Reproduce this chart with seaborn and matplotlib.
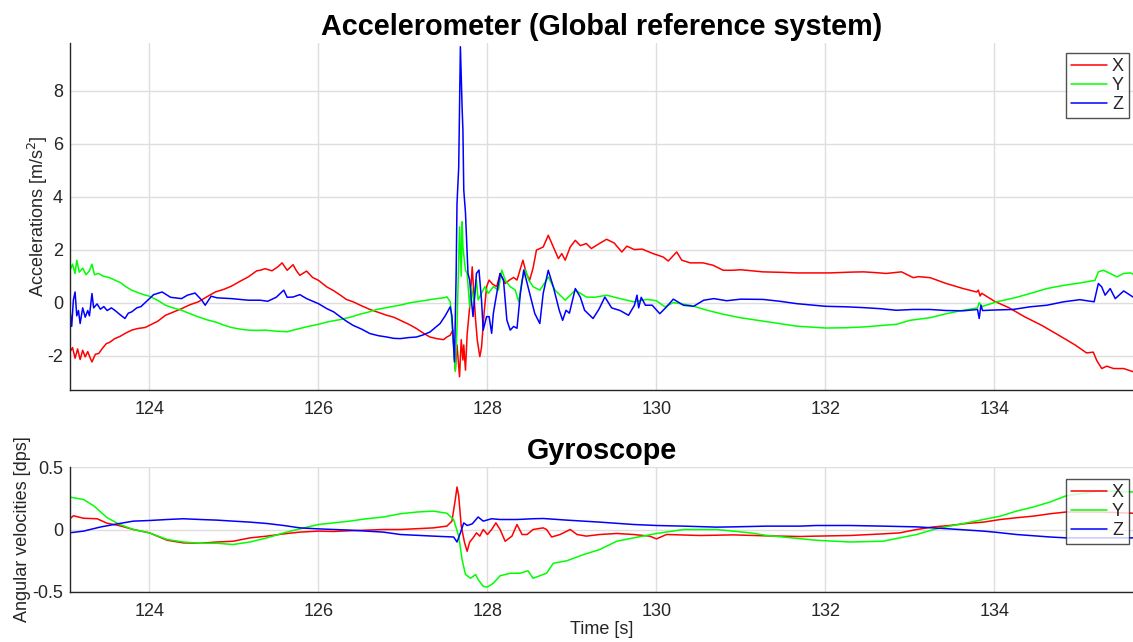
import matplotlib
matplotlib.use("Agg")
import matplotlib.pyplot as plt
import seaborn as sns

# ---------------- Accelerometer (global frame) ----------------
acc_x_t = [123.06, 123.09, 123.12, 123.15, 123.18, 123.21, 123.24, 123.27, 123.30, 123.32,
           123.36, 123.40, 123.45, 123.49, 123.53, 123.59, 123.65, 123.72, 123.79, 123.86,
           123.95, 124.00, 124.10, 124.19, 124.28, 124.38, 124.48, 124.58, 124.68, 124.78,
           124.88, 124.97, 125.07, 125.17, 125.27, 125.31, 125.37, 125.45, 125.52, 125.57,
           125.63, 125.70, 125.74, 125.78, 125.86, 125.93, 126.00, 126.10, 126.18, 126.26,
           126.33, 126.41, 126.51, 126.61, 126.71, 126.81, 126.89, 126.97, 127.07, 127.16,
           127.24, 127.32, 127.40, 127.48, 127.52, 127.56, 127.59, 127.62, 127.64, 127.67,
           127.69, 127.71, 127.72, 127.74, 127.76, 127.79, 127.82, 127.84, 127.86, 127.88,
           127.91, 127.93, 127.96, 127.99, 128.02, 128.06, 128.11, 128.15, 128.21, 128.26,
           128.31, 128.35, 128.42, 128.46, 128.50, 128.54, 128.58, 128.66, 128.72, 128.78,
           128.84, 128.88, 128.92, 128.98, 129.04, 129.10, 129.17, 129.23, 129.31, 129.41,
           129.50, 129.59, 129.65, 129.74, 129.83, 129.96, 130.08, 130.14, 130.24, 130.30,
           130.40, 130.55, 130.67, 130.79, 130.90, 131.00, 131.26, 131.50, 131.66, 131.90,
           132.05, 132.30, 132.45, 132.60, 132.72, 132.90, 133.04, 133.10, 133.24, 133.43,
           133.63, 133.79, 133.81, 133.83, 133.85, 134.00, 134.17, 134.36, 134.56, 134.76,
           134.96, 135.09, 135.17, 135.21, 135.27, 135.33, 135.41, 135.53, 135.65]
acc_x = [-1.86, -1.70, -2.10, -1.75, -2.15, -1.80, -2.05, -1.85, -2.10, -2.24,
         -1.95, -1.92, -1.70, -1.55, -1.50, -1.36, -1.28, -1.15, -1.04, -0.98,
         -0.94, -0.86, -0.70, -0.48, -0.36, -0.23, -0.08, 0.03, 0.22, 0.40,
         0.50, 0.62, 0.80, 0.97, 1.20, 1.22, 1.28, 1.20, 1.35, 1.50,
         1.22, 1.43, 1.20, 1.03, 1.19, 0.95, 0.84, 0.59, 0.45, 0.28,
         0.12, 0.03, -0.12, -0.26, -0.37, -0.48, -0.55, -0.67, -0.82, -0.98,
         -1.15, -1.30, -1.36, -1.40, -1.30, -1.23, -1.04, -2.55, -1.60, -2.80,
         -1.40, -2.17, -1.60, -2.55, -1.20, -0.16, 1.35, 0.30, -0.66, -1.42,
         -2.04, -1.70, -0.41, 0.60, 0.85, 0.70, 0.60, 1.10, 0.72, 0.85,
         0.95, 0.85, 1.60, 1.10, 0.85, 1.30, 1.98, 2.10, 2.54, 2.10,
         1.66, 1.85, 1.60, 2.10, 2.35, 2.15, 2.23, 2.04, 2.20, 2.39,
         2.25, 1.91, 2.13, 2.00, 2.02, 1.85, 1.72, 1.57, 1.91, 1.60,
         1.50, 1.50, 1.41, 1.22, 1.22, 1.24, 1.16, 1.14, 1.12, 1.12,
         1.12, 1.15, 1.16, 1.13, 1.10, 1.16, 0.94, 0.98, 0.94, 0.72,
         0.53, 0.40, 0.47, 0.25, 0.35, 0.05, -0.19, -0.54, -0.86, -1.23,
         -1.61, -1.90, -1.87, -2.18, -2.49, -2.40, -2.49, -2.49, -2.62]

acc_y_t = [123.06, 123.09, 123.12, 123.14, 123.17, 123.21, 123.25, 123.29, 123.32, 123.35,
           123.40, 123.45, 123.52, 123.59, 123.66, 123.72, 123.79, 123.86, 123.93, 124.00,
           124.10, 124.19, 124.28, 124.38, 124.48, 124.58, 124.68, 124.78, 124.88, 124.97,
           125.07, 125.17, 125.27, 125.37, 125.50, 125.63, 125.75, 125.88, 126.00, 126.12,
           126.26, 126.38, 126.49, 126.59, 126.69, 126.79, 126.89, 126.99, 127.08, 127.18,
           127.28, 127.38, 127.50, 127.52, 127.56, 127.59, 127.62, 127.64, 127.67, 127.69,
           127.70, 127.71, 127.74, 127.76, 127.79, 127.81, 127.84, 127.87, 127.89, 127.93,
           127.97, 128.01, 128.07, 128.13, 128.17, 128.21, 128.27, 128.33, 128.37, 128.41,
           128.45, 128.49, 128.54, 128.62, 128.70, 128.72, 128.80, 128.92, 129.04, 129.17,
           129.27, 129.41, 129.57, 129.73, 129.89, 130.00, 130.10, 130.20, 130.40, 130.60,
           130.79, 130.99, 131.26, 131.66, 132.00, 132.25, 132.45, 132.65, 132.84, 133.00,
           133.24, 133.43, 133.63, 133.80, 133.82, 133.85, 134.03, 134.25, 134.42, 134.62,
           134.82, 135.01, 135.19, 135.23, 135.29, 135.37, 135.45, 135.53, 135.61, 135.65]
acc_y = [1.22, 1.45, 1.10, 1.60, 1.15, 1.30, 1.05, 1.20, 1.45, 1.05,
         1.10, 1.00, 0.95, 0.85, 0.75, 0.60, 0.47, 0.38, 0.30, 0.24,
         0.08, -0.10, -0.20, -0.29, -0.42, -0.54, -0.65, -0.73, -0.85, -0.94,
         -1.00, -1.04, -1.05, -1.04, -1.08, -1.10, -1.00, -0.90, -0.82, -0.72,
         -0.64, -0.55, -0.44, -0.36, -0.26, -0.20, -0.14, -0.08, -0.01, 0.04,
         0.09, 0.14, 0.19, 0.22, 0.03, -1.16, -2.60, -0.90, 2.86, 1.00,
         3.05, 2.10, 1.23, 1.10, -0.16, 0.60, 0.03, 0.85, 0.10, 0.35,
         0.60, 0.35, 0.60, 0.47, 1.23, 0.85, 0.60, 0.47, 0.03, 0.85,
         1.23, 0.85, 0.60, 0.47, 0.85, 0.97, 0.47, 0.09, 0.47, 0.21,
         0.20, 0.28, 0.15, 0.03, 0.12, 0.07, -0.16, 0.00, -0.10, -0.29,
         -0.44, -0.57, -0.70, -0.89, -0.96, -0.95, -0.92, -0.87, -0.82, -0.67,
         -0.57, -0.42, -0.29, -0.20, 0.00, -0.15, 0.03, 0.19, 0.34, 0.53,
         0.65, 0.74, 0.84, 1.16, 1.22, 1.10, 0.97, 1.10, 1.12, 1.06]

acc_z_t = [123.06, 123.08, 123.10, 123.12, 123.14, 123.16, 123.18, 123.21, 123.24, 123.27,
           123.29, 123.32, 123.34, 123.38, 123.42, 123.46, 123.50, 123.55, 123.59, 123.65,
           123.71, 123.75, 123.79, 123.85, 123.90, 124.00, 124.05, 124.15, 124.25, 124.38,
           124.45, 124.54, 124.62, 124.66, 124.73, 124.80, 124.97, 125.17, 125.31, 125.40,
           125.50, 125.59, 125.63, 125.70, 125.78, 125.86, 126.00, 126.10, 126.18, 126.26,
           126.33, 126.41, 126.51, 126.61, 126.71, 126.81, 126.89, 126.97, 127.07, 127.16,
           127.24, 127.32, 127.38, 127.44, 127.50, 127.56, 127.58, 127.61, 127.63, 127.64,
           127.66, 127.68, 127.70, 127.71, 127.72, 127.74, 127.76, 127.77, 127.79, 127.81,
           127.83, 127.87, 127.90, 127.93, 127.95, 127.99, 128.02, 128.05, 128.07, 128.11,
           128.15, 128.19, 128.23, 128.27, 128.31, 128.35, 128.39, 128.43, 128.47, 128.50,
           128.56, 128.62, 128.66, 128.72, 128.78, 128.82, 128.85, 128.89, 128.93, 128.97,
           129.04, 129.10, 129.15, 129.25, 129.32, 129.39, 129.47, 129.57, 129.67, 129.74,
           129.77, 129.79, 129.82, 129.87, 129.95, 130.04, 130.12, 130.20, 130.32, 130.44,
           130.56, 130.68, 130.83, 131.00, 131.26, 131.46, 131.66, 132.00, 132.25, 132.45,
           132.65, 132.84, 133.04, 133.24, 133.43, 133.63, 133.80, 133.82, 133.84, 133.86,
           134.00, 134.22, 134.42, 134.62, 134.82, 135.01, 135.18, 135.23, 135.27, 135.31,
           135.37, 135.43, 135.53, 135.65]
acc_z = [-0.29, -0.90, 0.10, 0.40, -0.50, -0.30, -0.79, -0.20, -0.55, -0.30,
         -0.50, 0.34, -0.20, -0.05, -0.25, -0.15, -0.30, -0.20, -0.29, -0.45,
         -0.60, -0.40, -0.35, -0.20, -0.15, 0.15, 0.30, 0.40, 0.20, 0.15,
         0.28, 0.36, 0.09, -0.10, 0.24, 0.18, 0.15, 0.09, 0.09, 0.05,
         0.20, 0.47, 0.20, 0.21, 0.30, 0.15, -0.04, -0.23, -0.35, -0.54,
         -0.70, -0.86, -1.00, -1.17, -1.25, -1.30, -1.35, -1.36, -1.32, -1.30,
         -1.22, -1.11, -0.95, -0.79, -0.50, -0.16, -0.50, -2.24, 1.10, 3.74,
         5.10, 9.66, 7.40, 6.50, 4.25, 3.40, 1.86, 1.10, 0.85, 0.09,
         -0.53, 1.10, 1.23, 0.09, -1.04, -0.53, -0.53, -1.16, -0.41, 0.35,
         1.10, 0.85, -0.66, -1.04, -0.90, -0.97, 0.35, 1.23, 0.72, 0.35,
         -0.41, -0.79, 0.35, 1.22, 0.59, 0.09, -0.29, -0.67, -0.29, -0.40,
         0.53, 0.20, -0.29, -0.60, -0.25, 0.21, -0.20, -0.30, -0.48, -0.10,
         0.28, -0.20, 0.20, -0.10, -0.10, -0.42, -0.16, 0.13, -0.10, -0.14,
         0.09, 0.15, 0.07, 0.13, 0.12, 0.05, -0.04, -0.14, -0.16, -0.19,
         -0.23, -0.29, -0.26, -0.26, -0.30, -0.31, -0.26, -0.60, -0.10, -0.30,
         -0.28, -0.26, -0.16, -0.10, 0.03, 0.11, 0.03, 0.72, 0.59, 0.28,
         0.53, 0.15, 0.44, 0.19]

# ---------------- Gyroscope ----------------
gyr_x_t = [123.05, 123.10, 123.22, 123.38, 123.50, 123.65, 123.81, 124.00, 124.21, 124.40,
           124.60, 124.80, 124.99, 125.19, 125.39, 125.59, 125.78, 126.00, 126.18, 126.37,
           126.57, 126.77, 126.97, 127.36, 127.52, 127.58, 127.62, 127.64, 127.66, 127.69,
           127.73, 127.76, 127.79, 127.83, 127.87, 127.91, 127.95, 128.00, 128.05, 128.10,
           128.15, 128.21, 128.29, 128.35, 128.41, 128.47, 128.54, 128.66, 128.70, 128.76,
           128.86, 128.98, 129.06, 129.17, 129.33, 129.53, 129.73, 129.92, 130.00, 130.12,
           130.52, 130.91, 131.31, 131.70, 131.89, 132.29, 132.68, 132.88, 133.08, 133.28,
           133.47, 133.67, 133.87, 134.07, 134.26, 134.46, 134.66, 134.85, 135.25, 135.65]
gyr_x = [0.080, 0.110, 0.090, 0.086, 0.050, 0.030, 0.000, -0.027, -0.086, -0.107,
         -0.110, -0.100, -0.094, -0.067, -0.053, -0.035, -0.021, -0.013, -0.016, -0.010,
         -0.005, 0.000, 0.000, 0.013, 0.027, 0.067, 0.240, 0.340, 0.270, 0.027,
         -0.107, -0.174, -0.100, -0.067, -0.027, -0.053, 0.000, -0.040, 0.000, 0.053,
         0.000, -0.094, -0.053, 0.040, -0.040, -0.040, 0.000, 0.013, 0.000, -0.060,
         -0.040, 0.000, -0.040, -0.053, -0.040, -0.032, -0.040, -0.053, -0.075, -0.040,
         -0.048, -0.043, -0.051, -0.056, -0.053, -0.048, -0.035, -0.027, 0.000, 0.021,
         0.032, 0.048, 0.059, 0.080, 0.094, 0.107, 0.126, 0.140, 0.140, 0.130]

gyr_y_t = [123.05, 123.22, 123.34, 123.50, 123.65, 123.81, 124.00, 124.21, 124.40, 124.60,
           124.80, 124.99, 125.19, 125.39, 125.59, 125.78, 126.00, 126.18, 126.37, 126.57,
           126.77, 126.97, 127.17, 127.36, 127.52, 127.60, 127.66, 127.70, 127.74, 127.80,
           127.86, 127.89, 127.95, 128.00, 128.07, 128.15, 128.27, 128.39, 128.48, 128.54,
           128.62, 128.70, 128.78, 128.94, 129.14, 129.33, 129.53, 129.73, 130.00, 130.32,
           130.71, 130.91, 131.11, 131.31, 131.50, 131.89, 132.29, 132.68, 133.08, 133.28,
           133.47, 133.67, 133.87, 134.07, 134.26, 134.46, 134.66, 134.85, 135.25, 135.65]
gyr_y = [0.260, 0.240, 0.190, 0.094, 0.040, 0.000, -0.027, -0.080, -0.100, -0.110,
         -0.110, -0.120, -0.100, -0.067, -0.027, 0.005, 0.040, 0.053, 0.067, 0.086,
         0.100, 0.126, 0.140, 0.147, 0.130, 0.080, -0.053, -0.240, -0.360, -0.390,
         -0.360, -0.400, -0.455, -0.460, -0.430, -0.370, -0.350, -0.350, -0.330, -0.390,
         -0.370, -0.350, -0.270, -0.250, -0.200, -0.160, -0.094, -0.067, -0.032, 0.000,
         0.000, -0.013, -0.027, -0.048, -0.060, -0.086, -0.100, -0.094, -0.040, 0.000,
         0.027, 0.053, 0.080, 0.107, 0.147, 0.180, 0.220, 0.270, 0.310, 0.300]

gyr_z_t = [123.05, 123.22, 123.42, 123.62, 123.81, 124.00, 124.21, 124.40, 124.60, 124.80,
           124.99, 125.19, 125.39, 125.59, 125.78, 126.00, 126.18, 126.37, 126.57, 126.77,
           126.97, 127.36, 127.60, 127.64, 127.68, 127.72, 127.76, 127.82, 127.89, 127.95,
           128.05, 128.15, 128.35, 128.54, 128.66, 128.94, 129.33, 129.73, 130.00, 130.32,
           130.71, 130.91, 131.31, 131.70, 131.89, 132.29, 132.68, 133.08, 133.47, 133.87,
           134.00, 134.26, 134.66, 134.85, 135.65]
gyr_z = [-0.027, -0.013, 0.020, 0.045, 0.067, 0.072, 0.080, 0.086, 0.080, 0.075,
         0.067, 0.059, 0.048, 0.032, 0.013, 0.005, 0.000, -0.005, -0.013, -0.021,
         -0.040, -0.053, -0.060, -0.100, -0.027, 0.053, 0.032, 0.045, 0.100, 0.067,
         0.086, 0.080, 0.080, 0.086, 0.088, 0.075, 0.059, 0.040, 0.032, 0.027,
         0.019, 0.021, 0.027, 0.027, 0.032, 0.032, 0.027, 0.021, 0.005, -0.013,
         -0.021, -0.040, -0.060, -0.067, -0.067]

axis_labels = ["X", "Y", "Z"]
line_colors = ["#ff0000", "#00ff00", "#0000ff"]
x_ticks = [124, 126, 128, 130, 132, 134]
acc_yticks = [-2, 0, 2, 4, 6, 8]
gyr_yticks = [-0.5, 0, 0.5]

sns.set_theme(style="white")
plt.rcParams["font.family"] = ["Liberation Sans", "DejaVu Sans"]
plt.rcParams["axes.unicode_minus"] = False

TXT = "#262626"
GRID = "#dedede"

fig = plt.figure(figsize=(11.33, 6.42), dpi=100)
ax1 = fig.add_axes([70 / 1133, 1 - 390 / 642, 1 - 70 / 1133, (390 - 43) / 642])
ax2 = fig.add_axes([70 / 1133, 1 - 592 / 642, 1 - 70 / 1133, (592 - 467) / 642])


def draw(ax, series, ylim, yticks, ylabel, ylabelpad, title, legend_top_px):
    for (t, v), lab, col in zip(series, axis_labels, line_colors):
        sns.lineplot(x=t, y=v, ax=ax, color=col, linewidth=1.1, label=lab,
                     estimator=None, sort=False)
    ax.set_xlim(123.06, 135.64)
    ax.set_ylim(*ylim)
    ax.set_xticks(x_ticks)
    ax.set_yticks(yticks)
    ax.set_yticklabels([f"{y:g}" for y in yticks])
    ax.grid(True, color=GRID, linewidth=1.0)
    ax.set_axisbelow(True)
    for side in ("top", "right"):
        ax.spines[side].set_visible(False)
    for side in ("left", "bottom"):
        ax.spines[side].set_color(TXT)
        ax.spines[side].set_linewidth(1.0)
    ax.tick_params(direction="in", length=8, width=1.0, colors=TXT,
                   labelsize=13, labelcolor=TXT)
    ax.tick_params(axis="x", pad=8)
    ax.tick_params(axis="y", pad=5)
    ax.set_ylabel(ylabel, fontsize=13, color=TXT, labelpad=ylabelpad)
    ax.set_title(title, fontsize=20.7, fontweight="bold", color="black", pad=6)
    leg = ax.legend(loc="upper right", bbox_to_anchor=(1129 / 1133, 1 - legend_top_px / 642),
                    bbox_transform=fig.transFigure, borderaxespad=0, fontsize=13,
                    frameon=True, fancybox=False, handlelength=2.0, handletextpad=0.25,
                    labelspacing=0.12, borderpad=0.28)
    leg.get_frame().set_edgecolor(TXT)
    leg.get_frame().set_linewidth(1.0)


draw(ax1, [(acc_x_t, acc_x), (acc_y_t, acc_y), (acc_z_t, acc_z)],
     (-3.3, 9.8), acc_yticks, "Accelerations [m/s$^2$]", -2,
     "Accelerometer (Global reference system)", 53)
ax1.set_xlabel("")
draw(ax2, [(gyr_x_t, gyr_x), (gyr_y_t, gyr_y), (gyr_z_t, gyr_z)],
     (-0.5, 0.5), gyr_yticks, "Angular velocities [dps]", 1, "Gyroscope", 479)
ax2.set_xlabel("Time [s]", fontsize=13, color=TXT, labelpad=1)

fig.savefig("out.png", dpi=100)
